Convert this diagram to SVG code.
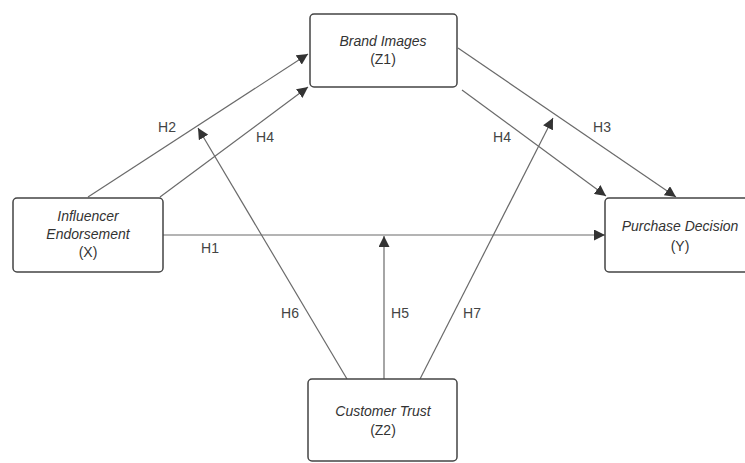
<svg xmlns="http://www.w3.org/2000/svg" width="745" height="463" viewBox="0 0 745 463">
<style>
.box{fill:#fff;stroke:#444;stroke-width:1.5}
.t{font-family:"Liberation Sans",Arial,sans-serif;font-size:14px;fill:#333;text-anchor:middle}
.i{font-style:italic}
.c{stroke:#6a6a6a;stroke-width:1.2;fill:none}
.lbl{font-family:"Liberation Sans",Arial,sans-serif;font-size:14px;fill:#444;text-anchor:middle}
</style>
<defs>
<marker id="arr" viewBox="0 0 10 10" refX="10" refY="5" markerWidth="11" markerHeight="11" markerUnits="userSpaceOnUse" orient="auto">
<path d="M0,0 L10,5 L0,10 z" fill="#333"/>
</marker>
</defs>
<rect width="745" height="463" fill="#fff"/>
<g id="connectors">
<line class="c" x1="163" y1="235" x2="605" y2="235" marker-end="url(#arr)"/>
<line class="c" x1="88" y1="197" x2="308" y2="54" marker-end="url(#arr)"/>
<line class="c" x1="160" y1="197" x2="308" y2="87" marker-end="url(#arr)"/>
<line class="c" x1="458" y1="48" x2="676" y2="197" marker-end="url(#arr)"/>
<line class="c" x1="462" y1="90" x2="606" y2="196" marker-end="url(#arr)"/>
<line class="c" x1="384" y1="379" x2="384" y2="236" marker-end="url(#arr)"/>
<line class="c" x1="347" y1="379" x2="198" y2="128" marker-end="url(#arr)"/>
<line class="c" x1="420" y1="379" x2="553" y2="118" marker-end="url(#arr)"/>
<text class="lbl" x="167" y="132">H2</text>
<text class="lbl" x="265" y="142">H4</text>
<text class="lbl" x="502" y="142">H4</text>
<text class="lbl" x="602" y="132">H3</text>
<text class="lbl" x="210" y="253">H1</text>
<text class="lbl" x="290" y="318">H6</text>
<text class="lbl" x="400" y="318">H5</text>
<text class="lbl" x="472" y="318">H7</text>
</g>
<g id="brand">
<rect class="box" x="310" y="14" width="147" height="73" rx="4"/>
<text class="t i" x="383" y="46">Brand Images</text>
<text class="t" x="383" y="64">(Z1)</text>
</g>
<g id="influencer">
<rect class="box" x="13" y="198" width="150" height="74" rx="4"/>
<text class="t i" x="88" y="221">Influencer</text>
<text class="t i" x="88" y="239">Endorsement</text>
<text class="t" x="88" y="257">(X)</text>
</g>
<g id="purchase">
<rect class="box" x="605" y="198" width="150" height="74" rx="4"/>
<text class="t i" x="680" y="231">Purchase Decision</text>
<text class="t" x="680" y="251">(Y)</text>
</g>
<g id="trust">
<rect class="box" x="308" y="379" width="149" height="82" rx="4"/>
<text class="t i" x="383" y="416">Customer Trust</text>
<text class="t" x="383" y="435">(Z2)</text>
</g>
</svg>
